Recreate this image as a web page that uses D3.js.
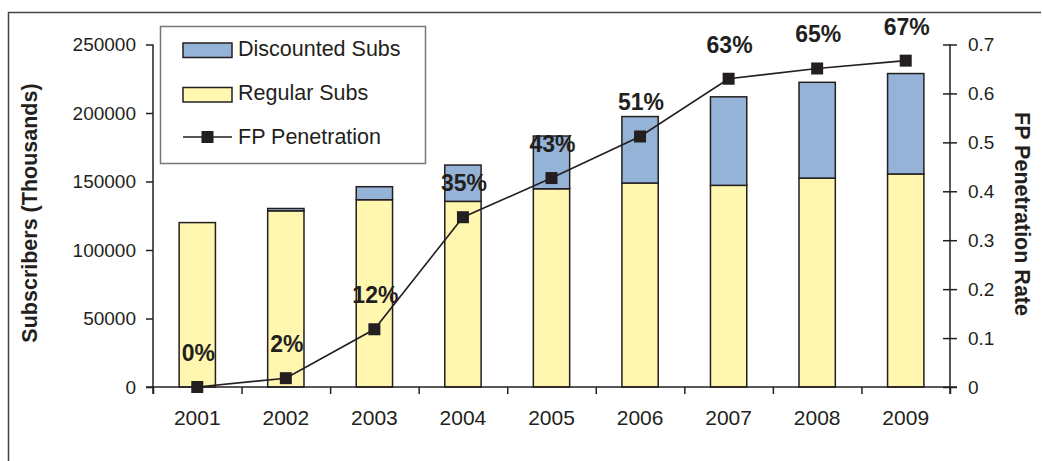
<!DOCTYPE html>
<html>
<head>
<meta charset="utf-8">
<script src="https://cdn.jsdelivr.net/npm/d3@7"></script>
<style>
  body { margin: 0; background: #fff; }
  svg { display: block; font-family: "Liberation Sans", Arial, sans-serif; }
  .axis text { fill: #231f20; font-size: 19px; }
  .axis path, .axis line { stroke: #231f20; stroke-width: 1.5; }
  .xlab text { font-size: 21px; }
  .title { fill: #231f20; font-size: 21.5px; font-weight: bold; }
  .pct { fill: #231f20; font-size: 23px; font-weight: bold; text-anchor: middle; }
  .legend text { fill: #231f20; font-size: 21.5px; }
</style>
</head>
<body>
<svg id="chart" width="1042" height="461"></svg>
<script>
// data
const years = ["2001", "2002", "2003", "2004", "2005", "2006", "2007", "2008", "2009"];
const regularSubs = [120000, 128600, 136700, 135500, 144700, 148900, 147200, 152500, 155500];
const discountedSubs = [0, 1700, 9500, 26500, 38500, 48500, 64600, 69900, 73300];
const fpPenetration = [0, 0.018, 0.118, 0.347, 0.427, 0.512, 0.63, 0.651, 0.667];
const fpLabels = ["0%", "2%", "12%", "35%", "43%", "51%", "63%", "65%", "67%"];
const subsTicks = [0, 50000, 100000, 150000, 200000, 250000];
const rateTicks = [0, 0.1, 0.2, 0.3, 0.4, 0.5, 0.6, 0.7];
const legendItems = ["Discounted Subs", "Regular Subs", "FP Penetration"];

const blue = "#95b3d7", yellow = "#fff7b0", ink = "#231f20";

const svg = d3.select("#chart");

const plotLeft = 153, plotRight = 950, plotTop = 44.5, plotBottom = 387;

let x = d3.scaleBand().domain(years).range([plotLeft, plotRight]).padding(0);
let xEdge = d3.scaleLinear().domain([0, years.length]).range([plotLeft, plotRight]);
let ySubs = d3.scaleLinear().domain([0, 250000]).range([plotBottom, plotTop]);
let yRate = d3.scaleLinear().domain([0, 0.7]).range([plotBottom, plotTop]);

let barW = x.bandwidth() * 0.41;

// outer frame
svg.append("path")
  .attr("d", "M8.5,470 V12.5 H1041")
  .attr("fill", "none")
  .attr("stroke", "#444")
  .attr("stroke-width", 1.5);

// bars
let bars = svg.append("g");
years.forEach(function(yr, i) {
  let cx = x(yr) + x.bandwidth() / 2;
  bars.append("rect")
    .attr("x", cx - barW / 2)
    .attr("y", ySubs(regularSubs[i]))
    .attr("width", barW)
    .attr("height", ySubs(0) - ySubs(regularSubs[i]))
    .attr("fill", yellow)
    .attr("stroke", ink)
    .attr("stroke-width", 1.5);
  if (discountedSubs[i] > 0) {
    bars.append("rect")
      .attr("x", cx - barW / 2)
      .attr("y", ySubs(regularSubs[i] + discountedSubs[i]))
      .attr("width", barW)
      .attr("height", ySubs(regularSubs[i]) - ySubs(regularSubs[i] + discountedSubs[i]))
      .attr("fill", blue)
      .attr("stroke", ink)
      .attr("stroke-width", 1.5);
  }
});

// left axis
svg.append("g")
  .attr("class", "axis")
  .attr("transform", "translate(" + plotLeft + ",0)")
  .call(d3.axisLeft(ySubs).tickValues(subsTicks).tickSize(7).tickPadding(10).tickFormat(d3.format("d")))
  .call(g => g.select(".domain").attr("d", "M0," + plotTop + "V" + (plotBottom + 7)));

// right axis, ticks cross the line
svg.append("g")
  .attr("class", "axis")
  .attr("transform", "translate(" + plotRight + ",0)")
  .call(d3.axisRight(yRate).tickValues(rateTicks).tickSize(7).tickPadding(11).tickFormat(d => String(d)))
  .call(g => g.select(".domain").attr("d", "M0," + plotTop + "V" + (plotBottom + 7)))
  .call(g => g.selectAll(".tick line").attr("x1", -7));

// x axis: ticks on category edges, labels in the middle
svg.append("g")
  .attr("class", "axis")
  .attr("transform", "translate(0," + plotBottom + ")")
  .call(d3.axisBottom(xEdge).tickValues(d3.range(years.length + 1)).tickSize(7).tickFormat(""))
  .call(g => g.select(".domain").attr("d", "M" + (plotLeft - 7) + ",0H" + (plotRight + 7)));

svg.append("g")
  .attr("class", "axis xlab")
  .attr("transform", "translate(0," + plotBottom + ")")
  .call(d3.axisBottom(x).tickSize(0).tickPadding(23))
  .call(g => g.select(".domain").remove());

// penetration line
let line = d3.line()
  .x((d, i) => x(years[i]) + x.bandwidth() / 2)
  .y(d => yRate(d));

svg.append("path")
  .datum(fpPenetration)
  .attr("d", line)
  .attr("fill", "none")
  .attr("stroke", ink)
  .attr("stroke-width", 1.6);

svg.selectAll("rect.marker")
  .data(fpPenetration)
  .enter()
    .append("rect")
    .attr("class", "marker")
    .attr("x", (d, i) => x(years[i]) + x.bandwidth() / 2 - 6)
    .attr("y", d => yRate(d) - 6)
    .attr("width", 12)
    .attr("height", 12)
    .attr("fill", ink);

svg.selectAll("text.pct")
  .data(fpPenetration)
  .enter()
    .append("text")
    .attr("class", "pct")
    .attr("x", (d, i) => x(years[i]) + x.bandwidth() / 2 + 1)
    .attr("y", d => yRate(d) - 26)
    .text((d, i) => fpLabels[i]);

// axis titles
svg.append("text")
  .attr("class", "title")
  .attr("transform", "translate(37,213) rotate(-90)")
  .attr("text-anchor", "middle")
  .text("Subscribers (Thousands)");

svg.append("text")
  .attr("class", "title")
  .attr("transform", "translate(1015,214) rotate(90)")
  .attr("text-anchor", "middle")
  .text("FP Penetration Rate");

// legend
let legend = svg.append("g").attr("class", "legend");
legend.append("rect")
  .attr("x", 160.5).attr("y", 26.5)
  .attr("width", 265).attr("height", 137)
  .attr("fill", "#fff")
  .attr("stroke", "#777")
  .attr("stroke-width", 1.5);

let swatches = [blue, yellow];
swatches.forEach(function(c, i) {
  legend.append("rect")
    .attr("x", 183).attr("y", 43 + i * 44.5)
    .attr("width", 49).attr("height", 14.5)
    .attr("fill", c)
    .attr("stroke", ink)
    .attr("stroke-width", 1.5);
});
legend.append("line")
  .attr("x1", 183).attr("x2", 232)
  .attr("y1", 137).attr("y2", 137)
  .attr("stroke", ink).attr("stroke-width", 1.6);
legend.append("rect")
  .attr("x", 201.5).attr("y", 131)
  .attr("width", 12).attr("height", 12)
  .attr("fill", ink);

legend.selectAll("text.item")
  .data(legendItems)
  .enter()
    .append("text")
    .attr("class", "item")
    .attr("x", 238)
    .attr("y", (d, i) => 55.5 + i * 44.3)
    .text(d => d);
</script>
</body>
</html>
